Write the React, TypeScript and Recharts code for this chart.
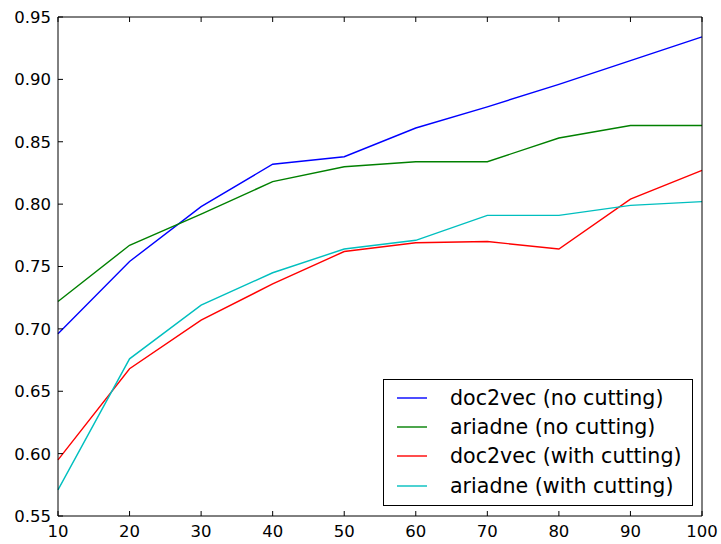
import { LineChart, Line, XAxis, YAxis, Legend } from 'recharts';

// values
const xValues = [10, 20, 30, 40, 50, 60, 70, 80, 90, 100];
const doc2vecNoCut = [0.696, 0.754, 0.798, 0.832, 0.838, 0.861, 0.878, 0.896, 0.915, 0.934];
const ariadneNoCut = [0.722, 0.767, 0.792, 0.818, 0.830, 0.834, 0.834, 0.853, 0.863, 0.863];
const doc2vecCut = [0.595, 0.668, 0.707, 0.736, 0.762, 0.769, 0.770, 0.764, 0.804, 0.827];
const ariadneCut = [0.571, 0.676, 0.719, 0.745, 0.764, 0.771, 0.791, 0.791, 0.799, 0.802];

const xTicks = [10, 20, 30, 40, 50, 60, 70, 80, 90, 100];
const yTicks = [0.55, 0.6, 0.65, 0.7, 0.75, 0.8, 0.85, 0.9, 0.95];

const series = [
  { key: 'd2vNo', name: 'doc2vec (no cutting)', color: '#0000ff', values: doc2vecNoCut },
  { key: 'ariNo', name: 'ariadne (no cutting)', color: '#008000', values: ariadneNoCut },
  { key: 'd2vCut', name: 'doc2vec (with cutting)', color: '#ff0000', values: doc2vecCut },
  { key: 'ariCut', name: 'ariadne (with cutting)', color: '#00bfbf', values: ariadneCut },
];

const data = xValues.map((x, i) => {
  const row: Record<string, number> = { x };
  series.forEach((s) => (row[s.key] = s.values[i]));
  return row;
});

const FONT = '"DejaVu Sans", sans-serif';
const TICK_LEN = 5;
const LABEL_GAP = 7;

const BottomTick = (props: any) => {
  const { x, y, payload } = props;
  const axisY = y - LABEL_GAP;
  return (
    <g>
      <line x1={x} y1={axisY} x2={x} y2={axisY - TICK_LEN} stroke="#000" />
      <text x={x} y={y + 14} textAnchor="middle" fontSize={16.5} fontFamily={FONT} fill="#000">
        {payload.value}
      </text>
    </g>
  );
};

const LeftTick = (props: any) => {
  const { x, y, payload } = props;
  const axisX = x + LABEL_GAP;
  return (
    <g>
      <line x1={axisX} y1={y} x2={axisX + TICK_LEN} y2={y} stroke="#000" />
      <text x={x} y={y} dy="0.36em" textAnchor="end" fontSize={16.5} fontFamily={FONT} fill="#000">
        {Number(payload.value).toFixed(2)}
      </text>
    </g>
  );
};

const TopTick = (props: any) => {
  const { x, y } = props;
  return <line x1={x} y1={y} x2={x} y2={y + TICK_LEN} stroke="#000" />;
};

const RightTick = (props: any) => {
  const { x, y } = props;
  return <line x1={x} y1={y} x2={x - TICK_LEN} y2={y} stroke="#000" />;
};

const LegendBox = () => (
  <div
    style={{
      width: 310,
      height: 127,
      boxSizing: 'border-box',
      border: '1px solid #000',
      background: '#fff',
      paddingTop: 3,
      fontFamily: FONT,
      fontSize: 20.6,
      color: '#000',
    }}
  >
    {series.map((s) => (
      <div key={s.key} style={{ height: 29.3, display: 'flex', alignItems: 'center' }}>
        <svg width={30} height={4} style={{ marginLeft: 13, display: 'block' }}>
          <line x1={0} y1={2} x2={30} y2={2} stroke={s.color} strokeWidth={1.4} />
        </svg>
        <span style={{ marginLeft: 23, whiteSpace: 'nowrap' }}>{s.name}</span>
      </div>
    ))}
  </div>
);

export default function App() {
  return (
    <div style={{ position: 'absolute', left: 0, top: 0, background: '#fff' }}>
      <LineChart width={721} height={544} data={data} margin={{ top: 16, right: 18, bottom: 0, left: 0 }}>
        <XAxis
          dataKey="x"
          type="number"
          domain={[10, 100]}
          ticks={xTicks}
          height={28}
          tickSize={0}
          tickMargin={LABEL_GAP}
          tick={<BottomTick />}
          axisLine={{ stroke: '#000' }}
          interval={0}
        />
        <XAxis
          xAxisId="top"
          orientation="top"
          dataKey="x"
          type="number"
          domain={[10, 100]}
          ticks={xTicks}
          height={1}
          tickSize={0}
          tickMargin={0}
          tick={<TopTick />}
          axisLine={{ stroke: '#000' }}
          interval={0}
        />
        <YAxis
          type="number"
          domain={[0.55, 0.95]}
          ticks={yTicks}
          width={58}
          tickSize={0}
          tickMargin={LABEL_GAP}
          tick={<LeftTick />}
          axisLine={{ stroke: '#000' }}
          interval={0}
        />
        <YAxis
          yAxisId="right"
          orientation="right"
          type="number"
          domain={[0.55, 0.95]}
          ticks={yTicks}
          width={1}
          tickSize={0}
          tickMargin={0}
          tick={<RightTick />}
          axisLine={{ stroke: '#000' }}
          interval={0}
        />
        {series.map((s) => (
          <Line
            key={s.key}
            type="linear"
            dataKey={s.key}
            name={s.name}
            stroke={s.color}
            strokeWidth={1.4}
            dot={false}
            isAnimationActive={false}
          />
        ))}
        <Legend
          layout="horizontal"
          verticalAlign="middle"
          align="center"
          content={<LegendBox />}
          wrapperStyle={{ left: 383, top: 379, width: 310, height: 127 }}
        />
      </LineChart>
    </div>
  );
}
